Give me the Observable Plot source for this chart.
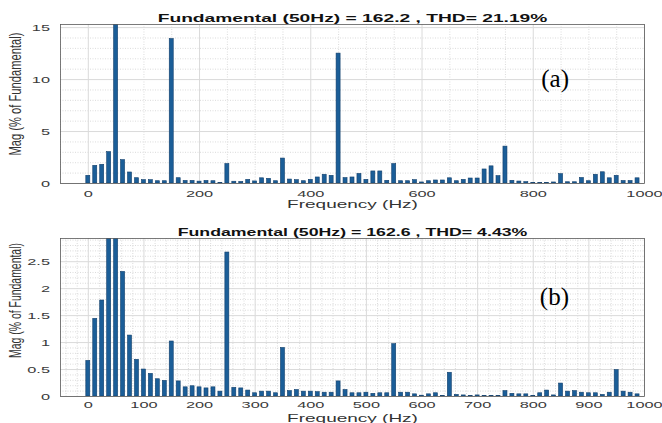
<!DOCTYPE html>
<html><head><meta charset="utf-8">
<script src="https://cdn.jsdelivr.net/npm/d3@7"></script>
<script src="https://cdn.jsdelivr.net/npm/@observablehq/plot@0.6"></script>
<style>
html,body{margin:0;padding:0;background:#fff;}
#chart{width:662px;height:423px;position:relative;overflow:hidden;}
#chart svg{display:block;}
</style></head><body><div id="chart"></div>
<script>
// FFT bin frequencies (Hz)
const freqs = [0,12.5,25,37.5,50,62.5,75,87.5,100,112.5,125,137.5,150,162.5,175,187.5,200,212.5,225,237.5,
  250,262.5,275,287.5,300,312.5,325,337.5,350,362.5,375,387.5,400,412.5,425,437.5,450,462.5,475,487.5,
  500,512.5,525,537.5,550,562.5,575,587.5,600,612.5,625,637.5,650,662.5,675,687.5,700,712.5,725,737.5,
  750,762.5,775,787.5,800,812.5,825,837.5,850,862.5,875,887.5,900,912.5,925,937.5,950,962.5,975,987.5];

// Panel (a) magnitudes (% of fundamental)
const magA = [0.74,1.70,1.80,3.02,100,2.25,1.06,0.51,0.32,0.32,
  0.22,0.22,13.9,0.51,0.25,0.25,0.18,0.25,0.22,0.06,
  1.87,0.17,0.15,0.35,0.20,0.50,0.45,0.22,2.40,0.38,
  0.32,0.22,0.35,0.58,0.84,0.74,12.5,0.52,0.58,0.92,
  0.35,1.16,1.16,0.26,1.87,0.22,0.22,0.32,0.10,0.22,
  0.29,0.29,0.50,0.22,0.35,0.48,0.48,1.35,1.65,0.71,
  3.55,0.26,0.19,0.13,0.06,0.03,0.06,0.10,0.90,0.12,
  0.12,0.53,0.22,0.84,1.08,0.50,0.74,0.24,0.24,0.50];

// Panel (b) magnitudes (% of fundamental)
const magB = [0.66,1.44,1.78,3.2,100,2.31,1.13,0.68,0.50,0.42,
  0.32,0.29,1.02,0.28,0.17,0.19,0.17,0.15,0.17,0.09,
  2.67,0.16,0.15,0.11,0.06,0.09,0.09,0.06,0.90,0.10,
  0.12,0.09,0.09,0.08,0.07,0.07,0.28,0.12,0.06,0.06,
  0.07,0.05,0.06,0.06,0.97,0.07,0.07,0.04,0.015,0.04,
  0.06,0.01,0.44,0.03,0.02,0.01,0.02,0.01,0.01,0.01,
  0.10,0.05,0.04,0.04,0.01,0.06,0.11,0.02,0.24,0.09,
  0.10,0.07,0.06,0.06,0.03,0.07,0.49,0.09,0.07,0.04];

const titleA = "Fundamental (50Hz) = 162.2 , THD= 21.19%";
const titleB = "Fundamental (50Hz) = 162.6 , THD= 4.43%";
const xLabel = "Frequency (Hz)";
const yLabel = "Mag (% of Fundamental)";
const tagA = "(a)";
const tagB = "(b)";

const xTicksA = [0,200,400,600,800,1000];
const yTicksA = [0,5,10,15];
const xTicksB = [0,100,200,300,400,500,600,700,800,900,1000];
const yTicksB = [0,0.5,1,1.5,2,2.5];

const xMinorA = d3.range(-50, 1000, 50).filter(v => v % 200 !== 0);
const yMinorA = d3.range(1, 16, 1).filter(v => v % 5 !== 0);
const xMinorB = d3.range(-40, 1000, 20).filter(v => v % 100 !== 0);
const yMinorB = d3.range(1, 30, 1).filter(v => v % 5 !== 0).map(v => v / 10);

function panel(o) {
  const data = freqs.map((f, i) => ({f, v: o.mags[i]}));
  return Plot.plot({
    width: 662, height: o.height,
    marginLeft: 60, marginRight: 18, marginTop: o.marginTop, marginBottom: o.marginBottom,
    style: {fontFamily: "'Liberation Sans', Arial, sans-serif", fontSize: "9.5px", color: "#3a3a3a", background: "#fff", overflow: "visible"},
    x: {domain: [-50, 1000], ticks: o.xTicks, tickSize: 0, tickPadding: o.xPad, label: null, tickFormat: d => String(d)},
    y: {domain: [0, o.yMax], ticks: o.yTicks, tickSize: 0, tickPadding: 10.5, label: null, tickFormat: d => String(d)},
    marks: [
      Plot.ruleX(o.xMinor, {stroke: "#cccccc", strokeDasharray: "1,1.5", strokeWidth: 0.7}),
      Plot.ruleY(o.yMinor, {stroke: "#cccccc", strokeDasharray: "1,1.5", strokeWidth: 0.7}),
      Plot.ruleX(o.xTicks, {stroke: "#dadada", strokeWidth: 1}),
      Plot.ruleY(o.yTicks, {stroke: "#dadada", strokeWidth: 1}),
      Plot.rectY(data, {x1: d => d.f - 3.6, x2: d => d.f + 3.6, y: "v", fill: "#1b5e98", stroke: "#123f6b", strokeWidth: 0.6, clip: true}),
      Plot.frame({stroke: "#5a5a5a", strokeWidth: 0.8}),
      Plot.text([o.title], {text: d => d, frameAnchor: "top", textAnchor: "middle", lineAnchor: "middle", dy: -6.5, fontWeight: "bold", fontSize: 11.5, fill: "#111"}),
      Plot.text([xLabel], {text: d => d, frameAnchor: "bottom", textAnchor: "middle", lineAnchor: "middle", dy: o.xLabDy, fontSize: 10, fill: "#333"}),
      Plot.text([yLabel], {text: d => d, frameAnchor: "left", textAnchor: "middle", lineAnchor: "middle", rotate: -90, dx: -45, dy: o.yLabDy, fontSize: 16, fill: "#333"}),
      Plot.text([o.tag], {text: d => d, frameAnchor: "top-right", textAnchor: "end", dx: -75.5, dy: o.tagDy, fontFamily: "'Liberation Serif', 'Times New Roman', serif", fontSize: 25, fill: "#000"})
    ]
  });
}

const root = document.getElementById("chart");
const svgA = panel({mags: magA, title: titleA, tag: tagA, height: 211, marginTop: 24, marginBottom: 28,
  xTicks: xTicksA, yTicks: yTicksA, xMinor: xMinorA, yMinor: yMinorA, yMax: 15.3,
  xPad: 6.5, xLabDy: 21, yLabDy: -10, tagDy: 45});
const svgB = panel({mags: magB, title: titleB, tag: tagB, height: 212, marginTop: 27, marginBottom: 27,
  xTicks: xTicksB, yTicks: yTicksB, xMinor: xMinorB, yMinor: yMinorB, yMax: 2.93,
  xPad: 5, xLabDy: 22, yLabDy: -17, tagDy: 49});
root.append(svgA, svgB);

// The reference picture is stretched horizontally: stretch the texts the same way
function stretchText(t, sx) {
  const tr = t.getAttribute("transform");
  if (tr) {
    t.setAttribute("transform", tr + ` scale(${sx},1)`);
  } else {
    const x = +t.getAttribute("x") || 0, y = +t.getAttribute("y") || 0;
    t.removeAttribute("x"); t.removeAttribute("y");
    t.setAttribute("transform", `translate(${x},${y}) scale(${sx},1)`);
  }
}
[[svgA, 123, 390], [svgB, 115, 350]].forEach(([svg, yLen, tLen]) => {
  svg.querySelectorAll("text").forEach(t => {
    const s = t.textContent;
    const L = t.getComputedTextLength();
    if (s === titleA || s === titleB) {
      stretchText(t, tLen / L);
    } else if (s === xLabel) {
      stretchText(t, 131 / L);
    } else if (s === yLabel) {
      stretchText(t, yLen / L);
    } else if (s === tagA || s === tagB) {
      // unchanged
    } else {
      stretchText(t, 1.72);
    }
  });
});
</script>
</body></html>
